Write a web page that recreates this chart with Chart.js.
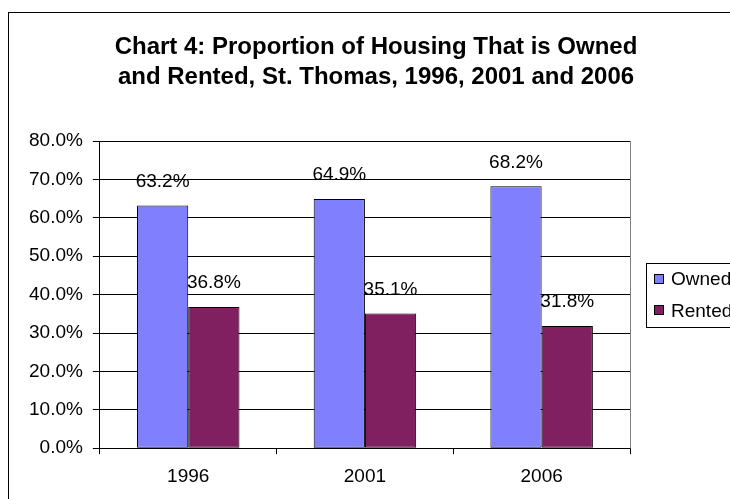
<!DOCTYPE html>
<html>
<head>
<meta charset="utf-8">
<script src="https://cdn.jsdelivr.net/npm/chart.js@4/dist/chart.umd.min.js"></script>
<style>
  html, body { margin: 0; padding: 0; overflow: hidden; background: #fff; }
  #wrap { width: 730px; height: 499px; overflow: hidden; }
</style>
</head>
<body>
<div id="wrap"><canvas id="chart" width="752" height="499"></canvas></div>
<script>
const years = ['1996', '2001', '2006'];
const owned = [63.2, 64.9, 68.2];
const rented = [36.8, 35.1, 31.8];
const seriesNames = ['Owned', 'Rented'];
const titleLines = ['Chart 4: Proportion of Housing That is Owned', 'and Rented, St. Thomas, 1996, 2001 and 2006'];

const FONT = "'Liberation Sans', Arial, sans-serif";
const pct = v => Number(v).toFixed(1) + '%';

// white page, outer frame (cut off at right like the source) and the title
const framePlugin = {
  id: 'frame',
  beforeDraw(chart) {
    const ctx = chart.ctx;
    ctx.save();
    ctx.fillStyle = '#fff';
    ctx.fillRect(0, 0, chart.width, chart.height);
    ctx.strokeStyle = '#000';
    ctx.lineWidth = 1;
    ctx.strokeRect(8.5, 12.5, 1000, 1000);
    ctx.fillStyle = '#000';
    ctx.font = 'bold 24px ' + FONT;
    ctx.textAlign = 'center';
    ctx.textBaseline = 'alphabetic';
    titleLines.forEach((t, i) => ctx.fillText(t, chart.width / 2, 54 + i * 30));
    ctx.restore();
  },
  afterDraw(chart) {
    // grey right edge of the plot area
    const a = chart.chartArea, ctx = chart.ctx;
    ctx.save();
    ctx.strokeStyle = '#808080';
    ctx.beginPath();
    ctx.moveTo(Math.round(a.right) + 0.5, a.top);
    ctx.lineTo(Math.round(a.right) + 0.5, a.bottom);
    ctx.stroke();
    ctx.restore();
  }
};

// value labels above each bar
const valueLabels = {
  id: 'valueLabels',
  afterDatasetsDraw(chart) {
    const ctx = chart.ctx;
    ctx.save();
    ctx.font = '19px ' + FONT;
    ctx.fillStyle = '#000';
    ctx.textAlign = 'center';
    ctx.textBaseline = 'middle';
    chart.data.datasets.forEach((ds, i) => {
      chart.getDatasetMeta(i).data.forEach((bar, j) => {
        ctx.fillText(pct(ds.data[j]), bar.x, bar.y - 24);
      });
    });
    ctx.restore();
  }
};

// boxed legend on the right
const boxLegend = {
  id: 'boxLegend',
  afterDraw(chart) {
    const ctx = chart.ctx;
    const a = chart.chartArea;
    const x = 646.5, mid = (a.top + a.bottom) / 2;
    const rowH = 31.5;
    const n = chart.data.datasets.length;
    const h = n * rowH + 1;
    const top = Math.round(mid - h / 2) + 0.5;
    ctx.save();
    ctx.strokeStyle = '#000';
    ctx.lineWidth = 1;
    ctx.strokeRect(x, top, 100, h);
    ctx.font = '19px ' + FONT;
    ctx.textBaseline = 'middle';
    ctx.textAlign = 'left';
    chart.data.datasets.forEach((ds, i) => {
      const cy = mid + (i - (n - 1) / 2) * rowH;
      ctx.fillStyle = ds.backgroundColor;
      ctx.fillRect(654, Math.round(cy - 5), 10, 10);
      ctx.strokeRect(654.5, Math.round(cy - 5) + 0.5, 9, 9);
      ctx.fillStyle = '#000';
      ctx.fillText(ds.label, 671, cy + 1);
    });
    ctx.restore();
  }
};

new Chart(document.getElementById('chart'), {
  type: 'bar',
  data: {
    labels: years,
    datasets: [
      { label: seriesNames[0], data: owned, backgroundColor: '#8080FF', borderColor: '#000', borderWidth: 1, borderSkipped: false },
      { label: seriesNames[1], data: rented, backgroundColor: '#802060', borderColor: '#000', borderWidth: 1, borderSkipped: false }
    ]
  },
  options: {
    responsive: false,
    animation: false,
    datasets: { bar: { categoryPercentage: 0.58, barPercentage: 1.0 } },
    layout: { padding: { left: 19, right: 122, top: 141, bottom: 0 } },
    plugins: {
      legend: { display: false },
      tooltip: { enabled: false },
      title: { display: false }
    },
    scales: {
      x: {
        grid: { offset: true, drawOnChartArea: false, drawTicks: true, tickLength: 6, color: '#000' },
        border: { color: '#000' },
        ticks: { color: '#000', font: { family: FONT, size: 19 }, padding: 11 }
      },
      y: {
        min: 0,
        max: 80,
        grid: { color: '#000', drawTicks: true, tickLength: 7 },
        border: { color: '#000' },
        ticks: { stepSize: 10, color: '#000', font: { family: FONT, size: 19 }, padding: 10, callback: v => pct(v) }
      }
    }
  },
  plugins: [framePlugin, valueLabels, boxLegend]
});
</script>
</body>
</html>
